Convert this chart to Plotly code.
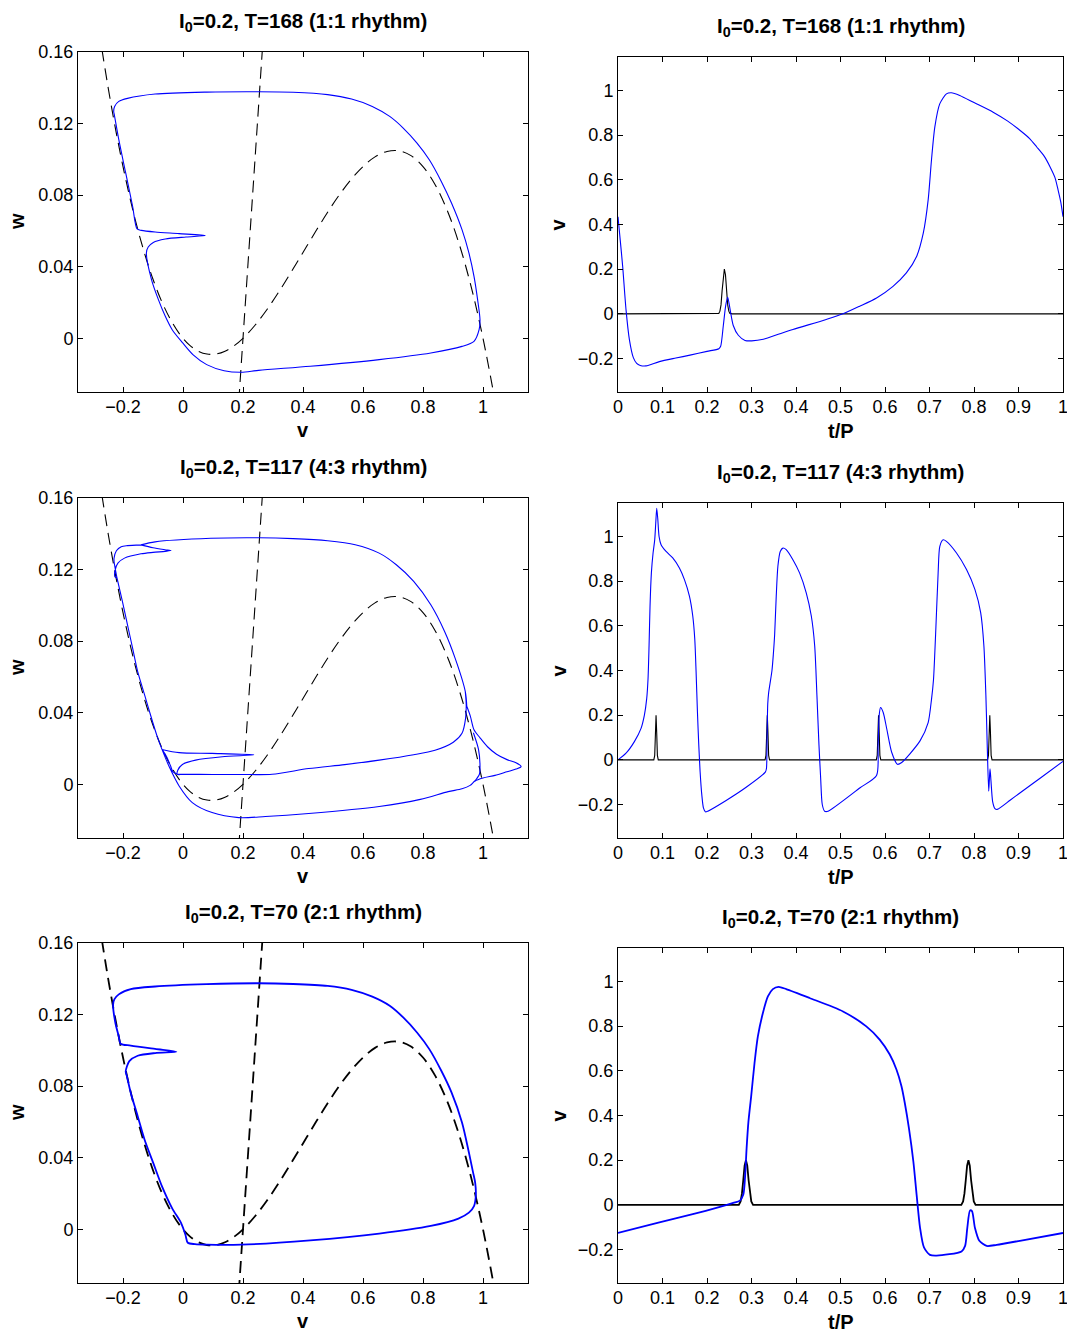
import plotly.graph_objects as go

W, H = 1067, 1332
FONT = "Liberation Sans, Arial, Helvetica, sans-serif"
BLUE = "#0000ff"

# ---------------- nullclines (shared by the three phase planes) ----------------
cubic_v = [-0.28, -0.25, -0.22, -0.19, -0.16, -0.13, -0.10, -0.07, -0.04, -0.01, 0.02, 0.05,
           0.08, 0.11, 0.14, 0.17, 0.20, 0.24, 0.28, 0.32, 0.36, 0.40, 0.44, 0.48, 0.52, 0.56,
           0.60, 0.64, 0.68, 0.72, 0.76, 0.80, 0.84, 0.88, 0.92, 0.96, 1.00, 1.04]
cubic_w = [0.172, 0.1406, 0.1127, 0.0882, 0.0668, 0.0485, 0.033, 0.0202, 0.010, 0.0021, -0.0035,
           -0.0071, -0.0088, -0.0088, -0.0072, -0.0042, 0.0, 0.0073, 0.0161, 0.0261, 0.0369, 0.048,
           0.0591, 0.0699, 0.0799, 0.0887, 0.096, 0.1014, 0.1044, 0.1048, 0.1021, 0.096, 0.086,
           0.0718, 0.053, 0.0292, 0.0, -0.0349]
wnull_v = [0.186, 0.266]
wnull_w = [-0.035, 0.165]

# ---------------- 1:1 rhythm, T=168 ----------------
pp1_v = [-0.122, -0.105, -0.082, -0.059, -0.036, -0.001, 0.033, 0.079, 0.137, 0.194, 0.252, 0.424,
         0.654, 0.826, 0.93, 0.97, 0.987, 0.99, 0.982, 0.970, 0.953, 0.93, 0.895, 0.861, 0.821,
         0.78, 0.734, 0.689, 0.631, 0.562, 0.482, 0.367, 0.252, 0.079, -0.093, -0.185, -0.214,
         -0.228, -0.231, -0.229, -0.214, -0.191, -0.168, -0.153, -0.139, -0.093, -0.013, 0.074,
         0.01, -0.059, -0.099, -0.116, -0.122]
pp1_w = [0.0477, 0.0328, 0.0216, 0.0123, 0.0048, -0.0026, -0.0091, -0.0147, -0.0181, -0.019,
         -0.0179, -0.0156, -0.0119, -0.0082, -0.0045, -0.0017, 0.0048, 0.0104, 0.0216, 0.0346,
         0.0477, 0.0607, 0.0756, 0.0877, 0.0998, 0.1091, 0.1175, 0.124, 0.1296, 0.1337, 0.1362,
         0.1375, 0.1378, 0.1376, 0.1365, 0.1341, 0.1324, 0.1296, 0.1268, 0.125, 0.111, 0.0924,
         0.0738, 0.0611, 0.0603, 0.0594, 0.0585, 0.0574, 0.0566, 0.0555, 0.0536, 0.051, 0.0477]

ts1_t = [0.0, 0.005, 0.0105, 0.018, 0.0255, 0.0345, 0.042, 0.05, 0.063, 0.093, 0.13, 0.1618,
         0.2, 0.2266, 0.2307, 0.2367, 0.242, 0.2465, 0.2517, 0.259, 0.2704, 0.2854, 0.3004, 0.3266,
         0.364, 0.393, 0.468, 0.5056, 0.543, 0.581, 0.618, 0.648, 0.671, 0.686, 0.697, 0.7044,
         0.712, 0.723, 0.738, 0.749, 0.768, 0.8, 0.843, 0.875, 0.903, 0.925, 0.941, 0.958, 0.971,
         0.982, 0.989, 0.995, 1.0]
ts1_v = [0.435, 0.33, 0.2125, 0.019, -0.114, -0.196, -0.222, -0.231, -0.233, -0.214, -0.198,
         -0.185, -0.168, -0.156, -0.145, -0.052, 0.037, 0.074, 0.022, -0.052, -0.096, -0.119,
         -0.121, -0.114, -0.089, -0.07, -0.025, 0.0, 0.034, 0.071, 0.123, 0.183, 0.257, 0.361,
         0.51, 0.688, 0.837, 0.94, 0.985, 0.99, 0.978, 0.946, 0.903, 0.864, 0.822, 0.785, 0.747,
         0.705, 0.658, 0.61, 0.554, 0.5, 0.435]

stim1_t = [0.0, 0.2215, 0.2265, 0.229, 0.2315, 0.234, 0.2365, 0.239, 0.2415, 0.244, 0.2465,
           0.249, 0.2515, 0.2565, 1.0]
stim1_v = [0.0, 0.0, 0.002, 0.012, 0.04, 0.105, 0.175, 0.2, 0.175, 0.105, 0.04, 0.012, 0.002,
           0.0, 0.0]

# ---------------- 4:3 rhythm, T=117 ----------------
# phase-plane pieces, in the order the orbit visits them
rest_v = [-0.047, -0.013, 0.031, 0.097, 0.186, 0.275, 0.419, 0.654, 0.791, 0.884, 0.93, 0.957,
          0.973, 1.0, 1.04, 1.08, 1.11, 1.127, 1.11, 1.08, 1.045, 1.015, 0.99, 0.97, 0.958, 0.946]
rest_w = [0.0102, -0.0009, -0.0102, -0.0158, -0.0186, -0.018, -0.0163, -0.0124, -0.0084, -0.0041,
          -0.0025, -0.0006, 0.0018, 0.0035, 0.005, 0.007, 0.0085, 0.0099, 0.012, 0.0138, 0.0168,
          0.021, 0.026, 0.0305, 0.038, 0.0436]
corner_v = [0.973, 0.988, 0.99, 0.985, 0.968]
corner_w = [0.0018, 0.0056, 0.0102, 0.0195, 0.0288]
plateau_v = [0.946, 0.941, 0.907, 0.872, 0.826, 0.769, 0.711, 0.654, 0.574, 0.482, 0.367, 0.252,
             0.093, -0.093, -0.14]
plateau_w = [0.0436, 0.0518, 0.0705, 0.0854, 0.1003, 0.1134, 0.1227, 0.1292, 0.1339, 0.1361,
             0.1373, 0.1378, 0.1375, 0.1355, 0.1338]
topleft_v = [-0.14, -0.185, -0.206, -0.222, -0.23, -0.229]
topleft_w = [0.1338, 0.1334, 0.1328, 0.1305, 0.1262, 0.1235]
descent_v = [-0.229, -0.22, -0.202, -0.185, -0.168, -0.151, -0.128, -0.105, -0.085, -0.07]
descent_w = [0.1235, 0.1153, 0.1022, 0.0891, 0.0761, 0.063, 0.05, 0.0369, 0.0262, 0.0195]
kick2_v = [-0.07, -0.055, -0.042, -0.033, -0.02, -0.002]
kick2_w = [0.0195, 0.0155, 0.0105, 0.0069, 0.0058, 0.0056]
kick3_v = [-0.07, -0.013, 0.097, 0.236, 0.131, 0.042, -0.002, -0.017, -0.019, -0.002]
kick3_w = [0.0195, 0.0177, 0.0173, 0.0165, 0.0154, 0.0135, 0.0111, 0.008, 0.0056, 0.0056]
middle_v = [-0.002, 0.1, 0.2, 0.297, 0.419, 0.539, 0.654, 0.769, 0.84, 0.901, 0.93, 0.942, 0.944,
            0.941]
middle_w = [0.0056, 0.0055, 0.0055, 0.0056, 0.0088, 0.011, 0.0135, 0.0165, 0.019, 0.0235, 0.0285,
            0.037, 0.045, 0.0518]
kick4_v = [-0.14, -0.1, -0.06, -0.04, -0.06, -0.1, -0.14, -0.195, -0.217, -0.226, -0.227, -0.22]
kick4_w = [0.1338, 0.1322, 0.1311, 0.1306, 0.1302, 0.1296, 0.1288, 0.1264, 0.1236, 0.1198, 0.116,
           0.1153]
tail_v = [-0.22, -0.202, -0.185, -0.168, -0.151, -0.128, -0.105, -0.085, -0.07, -0.047]
tail_w = [0.1153, 0.1022, 0.0891, 0.0761, 0.063, 0.05, 0.0369, 0.0262, 0.0195, 0.0102]

ts2_t = [0.0, 0.018, 0.0368, 0.0518, 0.0593, 0.0645, 0.0675, 0.0698, 0.072, 0.075, 0.0788, 0.0825,
         0.0848, 0.087, 0.0893, 0.0923, 0.0968, 0.108, 0.123, 0.138, 0.1493, 0.1605, 0.168, 0.1725,
         0.1755, 0.1785, 0.1815, 0.1845, 0.1883, 0.192, 0.1965, 0.2018, 0.243, 0.288, 0.331,
         0.3335, 0.335, 0.3365, 0.3385, 0.3415, 0.346, 0.349, 0.352, 0.3556, 0.3593, 0.3646,
         0.3706, 0.378, 0.393, 0.408, 0.423, 0.4344, 0.442, 0.447, 0.4516, 0.4554, 0.459, 0.4644,
         0.472, 0.544, 0.581, 0.5845, 0.587, 0.59, 0.596, 0.604, 0.615, 0.628, 0.6375, 0.656,
         0.679, 0.697, 0.7045, 0.709, 0.7142, 0.7194, 0.7232, 0.7307, 0.738, 0.7607, 0.7832, 0.802,
         0.815, 0.8222, 0.8267, 0.8297, 0.833, 0.8345, 0.836, 0.838, 0.842, 0.847, 0.852, 0.881,
         0.9, 0.95, 1.0]
ts2_v = [0.0, 0.0296, 0.0815, 0.1407, 0.2, 0.274, 0.363, 0.511, 0.689, 0.837, 0.926, 0.985, 1.059,
         1.126, 1.081, 1.0, 0.963, 0.933, 0.904, 0.859, 0.807, 0.733, 0.644, 0.541, 0.393, 0.215,
         0.067, -0.052, -0.156, -0.215, -0.233, -0.23, -0.182, -0.123, -0.055, -0.04, 0.1, 0.25,
         0.3, 0.34, 0.4, 0.47, 0.56, 0.733, 0.867, 0.933, 0.948, 0.941, 0.896, 0.837, 0.748,
         0.644, 0.511, 0.289, 0.067, -0.081, -0.2, -0.23, -0.23, -0.125, -0.07, 0.064, 0.2, 0.234,
         0.212, 0.138, 0.034, -0.02, -0.012, 0.027, 0.086, 0.167, 0.271, 0.36, 0.585, 0.837, 0.956,
         0.985, 0.978, 0.926, 0.852, 0.763, 0.659, 0.511, 0.289, 0.067, -0.14, -0.09, -0.04, -0.09,
         -0.188, -0.218, -0.222, -0.181, -0.153, -0.08, -0.007]

stim2_t = [0.0, 0.0805, 0.0825, 0.084, 0.0855, 0.087, 0.0885, 0.0905,
           0.3305, 0.3325, 0.334, 0.3355, 0.337, 0.3385, 0.3405,
           0.5805, 0.5825, 0.584, 0.5855, 0.587, 0.5885, 0.5905,
           0.8305, 0.8325, 0.834, 0.8355, 0.837, 0.8385, 0.8405, 1.0]
stim2_v = [0.0, 0.0, 0.02, 0.12, 0.2, 0.12, 0.02, 0.0,
           0.0, 0.02, 0.12, 0.2, 0.12, 0.02, 0.0,
           0.0, 0.02, 0.12, 0.2, 0.12, 0.02, 0.0,
           0.0, 0.02, 0.12, 0.2, 0.12, 0.02, 0.0, 0.0]

# ---------------- 2:1 rhythm, T=70 ----------------
pp3_v = [-0.128, -0.099, -0.07, -0.036, -0.007, 0.008, 0.016, 0.04, 0.079, 0.194, 0.424, 0.654,
         0.826, 0.918, 0.953, 0.97, 0.976, 0.974, 0.967, 0.953, 0.93, 0.895, 0.861, 0.821, 0.78,
         0.734, 0.689, 0.631, 0.562, 0.482, 0.367, 0.252, 0.079, -0.093, -0.174, -0.214, -0.229,
         -0.233, -0.225, -0.214, -0.208, -0.174, -0.093, -0.022, -0.093, -0.151, -0.179, -0.187,
         -0.191, -0.187, -0.174, -0.151, -0.128]
pp3_w = [0.05, 0.037, 0.024, 0.0117, 0.0037, -0.003, -0.0075, -0.0083, -0.0086, -0.0086, -0.0062,
         -0.0024, 0.0019, 0.006, 0.0093, 0.013, 0.0186, 0.026, 0.0317, 0.0429, 0.0597, 0.0765,
         0.0886, 0.1007, 0.11, 0.1184, 0.1249, 0.13, 0.1338, 0.136, 0.1371, 0.1375, 0.137, 0.1357,
         0.1342, 0.1313, 0.1285, 0.1255, 0.115, 0.1078, 0.1037, 0.1027, 0.1008, 0.0992, 0.0985,
         0.097, 0.094, 0.091, 0.0882, 0.0855, 0.0762, 0.0632, 0.05]

ts3_t = [0.0, 0.093, 0.168, 0.229, 0.259, 0.274, 0.2816, 0.2854, 0.289, 0.293, 0.2993, 0.3068,
         0.3143, 0.3256, 0.3368, 0.348, 0.3608, 0.378, 0.4306, 0.5056, 0.558, 0.588, 0.6107,
         0.6257, 0.637, 0.6444, 0.654, 0.6637, 0.671, 0.6787, 0.6876, 0.701, 0.716, 0.772, 0.78,
         0.785, 0.791, 0.7955, 0.802, 0.812, 0.8285, 0.851, 0.903, 1.0]
ts3_v = [-0.126, -0.079, -0.042, -0.009, 0.009, 0.019, 0.046, 0.12, 0.253, 0.37, 0.487, 0.635,
         0.754, 0.859, 0.933, 0.966, 0.976, 0.966, 0.926, 0.866, 0.799, 0.74, 0.673, 0.606, 0.531,
         0.457, 0.34, 0.194, 0.046, -0.102, -0.191, -0.224, -0.227, -0.209, -0.184, -0.102,
         -0.025, -0.028, -0.102, -0.161, -0.184, -0.179, -0.161, -0.126]

stim3_t = [0.0, 0.2715, 0.2755, 0.2785, 0.2815, 0.2845, 0.2875, 0.2905, 0.2935, 0.2965, 0.2995,
           0.3035, 0.7715, 0.7755, 0.7785, 0.7815, 0.7845, 0.7875, 0.7905, 0.7935, 0.7965,
           0.7995, 0.8035, 1.0]
stim3_v = [0.0, 0.0, 0.015, 0.05, 0.11, 0.175, 0.2, 0.175, 0.11, 0.05, 0.015, 0.0, 0.0, 0.015,
           0.05, 0.11, 0.175, 0.2, 0.175, 0.11, 0.05, 0.015, 0.0, 0.0]

titles = ["I<sub>0</sub>=0.2, T=168 (1:1 rhythm)",
          "I<sub>0</sub>=0.2, T=117 (4:3 rhythm)",
          "I<sub>0</sub>=0.2, T=70 (2:1 rhythm)"]

pp_xticks = [-0.2, 0, 0.2, 0.4, 0.6, 0.8, 1]
pp_yticks = [0, 0.04, 0.08, 0.12, 0.16]
ts_xticks = [0, 0.1, 0.2, 0.3, 0.4, 0.5, 0.6, 0.7, 0.8, 0.9, 1]
ts_yticks = [-0.2, 0, 0.2, 0.4, 0.6, 0.8, 1]


def cat(*segs):
    out = []
    for s in segs:
        out.extend(s)
    return out


# full 4:3 orbit in the phase plane (three beats and four stimuli), plus the rounded corner
pp2_v = cat(rest_v, plateau_v, topleft_v, descent_v, kick2_v, middle_v, plateau_v, topleft_v,
            descent_v, kick3_v, middle_v, plateau_v, kick4_v, tail_v, [None], corner_v)
pp2_w = cat(rest_w, plateau_w, topleft_w, descent_w, kick2_w, middle_w, plateau_w, topleft_w,
            descent_w, kick3_w, middle_w, plateau_w, kick4_w, tail_w, [None], corner_w)

# ---------------- layout geometry (pixels) ----------------
left_x = (78, 528)
right_x = (618, 1063)
rows = [  # (left top, right top, bottom)
    (52, 57, 392),
    (498, 503, 838),
    (943, 948, 1283),
]
widths = [1.1, 1.1, 1.8]
DASH = "12px,7px"

fig = go.Figure()
layout = dict(width=W, height=H, margin=dict(l=0, r=0, t=0, b=0, autoexpand=False),
              showlegend=False, plot_bgcolor="white", paper_bgcolor="white", template="none")


def fx(px):
    return px / W


def fy(py):
    return 1 - py / H


def axis_style(rng, ticks, domain, anchor, is_x):
    d = dict(range=rng, tickvals=ticks, domain=domain, anchor=anchor, showgrid=False,
             zeroline=False, showline=True, linecolor="black", linewidth=1, mirror="ticks",
             ticks="inside", ticklen=5, tickcolor="black", tickwidth=1, automargin=False,
             ticklabeloverflow="allow",
             tickfont=dict(family=FONT, size=18, color="black"), fixedrange=True)
    if is_x:
        d["ticklabelstandoff"] = -2
    return d


phase = [(pp1_v, pp1_w), (pp2_v, pp2_w), (pp3_v, pp3_w)]
series = [(ts1_t, ts1_v, stim1_t, stim1_v),
          (ts2_t, ts2_v, stim2_t, stim2_v),
          (ts3_t, ts3_v, stim3_t, stim3_v)]

annotations = []


def label(text, x, y, size, angle=0):
    annotations.append(dict(text=text, x=fx(x), y=fy(y), xref="paper", yref="paper",
                            showarrow=False, xanchor="center", yanchor="middle",
                            textangle=angle, font=dict(family=FONT, size=size, color="black")))


for r, (ltop, rtop, bot) in enumerate(rows):
    ia = 2 * r + 1
    ib = 2 * r + 2
    xa, ya = f"x{ia}", f"y{ia}"
    xb, yb = f"x{ib}", f"y{ib}"
    lw = widths[r]

    layout[f"xaxis{ia}"] = axis_style([-0.35, 1.15], pp_xticks, [fx(left_x[0]), fx(left_x[1])],
                                      ya, True)
    layout[f"yaxis{ia}"] = axis_style([-0.03, 0.16], pp_yticks, [fy(bot), fy(ltop)], xa, False)
    layout[f"xaxis{ib}"] = axis_style([0, 1], ts_xticks, [fx(right_x[0]), fx(right_x[1])], yb,
                                      True)
    layout[f"yaxis{ib}"] = axis_style([-0.35, 1.15], ts_yticks, [fy(bot), fy(rtop)], xb, False)

    # phase plane: nullclines dashed, orbit blue
    fig.add_trace(go.Scatter(x=cubic_v, y=cubic_w, mode="lines", xaxis=xa, yaxis=ya,
                             line=dict(color="black", width=lw, dash=DASH, shape="spline")))
    fig.add_trace(go.Scatter(x=wnull_v, y=wnull_w, mode="lines", xaxis=xa, yaxis=ya,
                             line=dict(color="black", width=lw, dash=DASH)))
    pv, pw = phase[r]
    fig.add_trace(go.Scatter(x=pv, y=pw, mode="lines", xaxis=xa, yaxis=ya, connectgaps=False,
                             line=dict(color=BLUE, width=lw, shape="spline", smoothing=0.8)))

    # time series: stimulus black, membrane variable blue
    tt, vv, st, sv = series[r]
    fig.add_trace(go.Scatter(x=st, y=sv, mode="lines", xaxis=xb, yaxis=yb,
                             line=dict(color="black", width=lw)))
    fig.add_trace(go.Scatter(x=tt, y=vv, mode="lines", xaxis=xb, yaxis=yb,
                             line=dict(color=BLUE, width=lw, shape="spline", smoothing=0.7)))

    cxl = (left_x[0] + left_x[1]) / 2
    cxr = (right_x[0] + right_x[1]) / 2
    label("<b>" + titles[r] + "</b>", cxl, ltop - 30, 20.5)
    label("<b>" + titles[r] + "</b>", cxr, rtop - 30, 20.5)
    label("<b>v</b>", cxl, bot + 38, 20)
    label("<b>t/P</b>", cxr, bot + 39, 20)
    label("<b>w</b>", 17, (ltop + bot) / 2, 20, -90)
    label("<b>v</b>", 558, (rtop + bot) / 2, 20, -90)

layout["annotations"] = annotations
fig.update_layout(**layout)
fig.write_html("out.html")
